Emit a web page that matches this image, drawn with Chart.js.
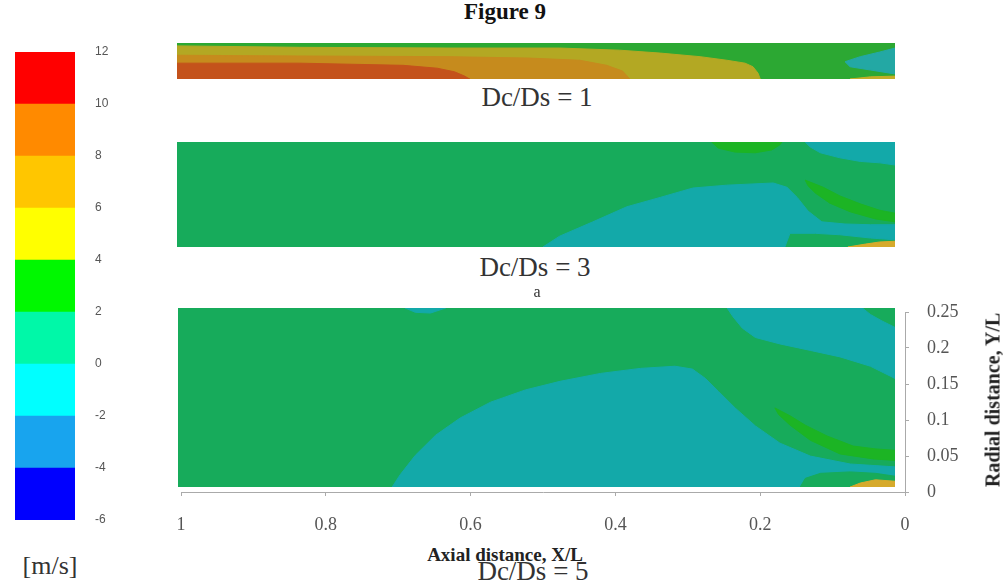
<!DOCTYPE html>
<html>
<head>
<meta charset="utf-8">
<script src="https://cdn.jsdelivr.net/npm/chart.js@4.4.1/dist/chart.umd.min.js"></script>
<style>
  body { margin: 0; background: #fff; width: 1003px; height: 582px; position: relative; overflow: hidden; }
  canvas { position: absolute; }
  .lbl { position: absolute; font-family: "Liberation Serif", "Times New Roman", serif; color: #333; white-space: nowrap; transform: translateX(-50%); }
</style>
</head>
<body>
<div class="lbl" style="left:505px;top:-1px;font-size:23px;font-weight:bold;color:#111">Figure 9</div>

<canvas id="key" width="130" height="490" style="left:0;top:40px"></canvas>
<canvas id="p1" width="718" height="36" style="left:177px;top:43px"></canvas>
<canvas id="p2" width="718" height="105" style="left:177px;top:142px"></canvas>
<canvas id="axes3" width="833" height="230" style="left:170px;top:300px"></canvas>
<canvas id="p3" width="717" height="179" style="left:178px;top:308px"></canvas>

<div class="lbl" style="left:537px;top:82px;font-size:27px">Dc/Ds = 1</div>
<div class="lbl" style="left:535px;top:252px;font-size:27px">Dc/Ds = 3</div>
<div class="lbl" style="left:537px;top:283px;font-size:16px">a</div>
<div class="lbl" style="left:505px;top:544px;font-size:19px;font-weight:bold;color:#222">Axial distance, X/L</div>
<div class="lbl" style="left:533px;top:556px;font-size:27px">Dc/Ds = 5</div>
<div class="lbl" style="left:50px;top:551px;font-size:26px">[m/s]</div>
<div class="lbl" style="left:993px;top:400px;font-size:20px;font-weight:bold;color:#222;transform:translate(-50%,-50%) rotate(-90deg)">Radial distance, Y/L</div>

<script>
// velocity key, m/s
const levels = [-6, -4, -2, 0, 2, 4, 6, 8, 10, 12];
const levelColors = ['#0000ff', '#18a4ee', '#00ffff', '#00f8a8', '#00f800', '#ffff00', '#ffc600', '#ff8a00', '#ff0000'];

// axis ticks (X/L runs from inlet 1 down to 0)
const axialTicks = [1, 0.8, 0.6, 0.4, 0.2, 0];
const radialTicks = [0, 0.05, 0.1, 0.15, 0.2, 0.25];

// extent of each computed field
const fieldAxial = [0.014, 1.005];
const fieldRadial1 = [0, 0.05];
const fieldRadial2 = [0, 0.146];
const fieldRadial3 = [0.007, 0.256];

// contour bands, [X/L, Y/L] outlines

// Dc/Ds = 1
const olive1 = [[1.005, 0.046], [0.836, 0.044], [0.628, 0.043], [0.477, 0.043], [0.394, 0.040], [0.338, 0.036],
  [0.283, 0.031], [0.246, 0.026], [0.221, 0.022], [0.210, 0.017], [0.203, 0.008], [0.200, 0], [1.005, 0]];
const orange1 = [[1.005, 0.033], [0.836, 0.032], [0.628, 0.031], [0.518, 0.029], [0.449, 0.026], [0.412, 0.019],
  [0.390, 0.011], [0.380, 0], [1.005, 0]];
const red1 = [[1.005, 0.022], [0.836, 0.022], [0.693, 0.019], [0.646, 0.015], [0.622, 0.010], [0.608, 0.004],
  [0.601, 0], [1.005, 0]];
const cyan1 = [[0.014, 0.043], [0.035, 0.0375], [0.062, 0.031], [0.083, 0.024], [0.076, 0.017], [0.048, 0.0125], [0.014, 0.007]];
const rim1 = [[0.076, 0], [0.048, 0.003], [0.014, 0.004], [0.014, 0]];

// Dc/Ds = 3
const cyanLow2 = [[0.500, 0], [0.477, 0.015], [0.431, 0.035], [0.384, 0.056], [0.338, 0.069], [0.293, 0.082],
  [0.246, 0.086], [0.182, 0.089], [0.163, 0.083], [0.149, 0.069], [0.134, 0.050], [0.115, 0.035], [0.083, 0.032],
  [0.048, 0.031], [0.014, 0.031], [0.014, 0.010], [0.048, 0.0125], [0.090, 0.017], [0.124, 0.019], [0.159, 0.019], [0.166, 0]];
const cyanTop2 = [[0.138, 0.146], [0.131, 0.139], [0.117, 0.131], [0.090, 0.124], [0.062, 0.119], [0.035, 0.117],
  [0.014, 0.114], [0.014, 0.146]];
const band2 = [[0.138, 0.093], [0.113, 0.083], [0.090, 0.071], [0.062, 0.060], [0.035, 0.051], [0.014, 0.047],
  [0.014, 0.035], [0.041, 0.039], [0.076, 0.049], [0.104, 0.061], [0.124, 0.075], [0.134, 0.085]];
const streak2 = [[0.267, 0.146], [0.258, 0.1375], [0.235, 0.132], [0.207, 0.131], [0.184, 0.135], [0.173, 0.142], [0.170, 0.146]];
const spot2 = [[0.079, 0], [0.055, 0.004], [0.035, 0.007], [0.014, 0.008], [0.014, 0]];

// Dc/Ds = 5
const cyanLow3 = [[0.709, 0.007], [0.698, 0.024], [0.677, 0.051], [0.649, 0.079], [0.615, 0.103], [0.573, 0.125],
  [0.525, 0.142], [0.477, 0.154], [0.421, 0.165], [0.366, 0.172], [0.318, 0.175], [0.294, 0.171], [0.276, 0.158],
  [0.258, 0.140], [0.235, 0.117], [0.207, 0.092], [0.173, 0.068], [0.131, 0.050], [0.076, 0.039], [0.014, 0.035], [0.014, 0.007]];
const cyanTop3 = [[0.246, 0.256], [0.238, 0.244], [0.225, 0.228], [0.207, 0.215], [0.173, 0.206], [0.131, 0.197],
  [0.090, 0.188], [0.048, 0.175], [0.014, 0.158], [0.014, 0.229], [0.032, 0.238], [0.048, 0.247], [0.059, 0.256]];
const nick3 = [[0.691, 0.256], [0.677, 0.250], [0.656, 0.249], [0.635, 0.256]];
const band3 = [[0.180, 0.117], [0.159, 0.106], [0.138, 0.093], [0.108, 0.078], [0.072, 0.064], [0.041, 0.060], [0.014, 0.058],
  [0.014, 0.044], [0.044, 0.046], [0.090, 0.053], [0.131, 0.072], [0.159, 0.093], [0.175, 0.108]];
const blob3 = [[0.145, 0.007], [0.138, 0.019], [0.117, 0.026], [0.076, 0.028], [0.041, 0.026], [0.014, 0.022], [0.014, 0.007]];
const spot3 = [[0.076, 0.007], [0.062, 0.0125], [0.041, 0.017], [0.014, 0.015], [0.014, 0.007]];

const GREEN = '#17ab5b', CYAN = '#13a9a9', BRIGHT = '#1cb424', SPOT = '#d6aa2c';

function fieldRect(radial) {
  const [x0, x1] = fieldAxial, [y0, y1] = radial;
  return [[x1, y0], [x0, y0], [x0, y1], [x1, y1]];
}

function layerSets(layers) {
  return layers.map(([pts, col], i) => ({
    data: pts.concat([pts[0]]).map(p => ({ x: p[0], y: p[1] })),
    showLine: true,
    fill: 'shape',
    backgroundColor: col,
    borderColor: col,
    borderWidth: 1,
    pointRadius: 0,
    tension: 0,
    order: -i
  }));
}

const quiet = { legend: { display: false }, tooltip: { enabled: false } };

// a contour panel fills its whole canvas: the scales span the field extent
function fieldPanel(id, radial, layers) {
  return new Chart(document.getElementById(id), {
    type: 'scatter',
    data: { datasets: layerSets([[fieldRect(radial), layers[0]]].concat(layers.slice(1))) },
    options: {
      responsive: false, animation: false, devicePixelRatio: 1,
      layout: { padding: 0 },
      plugins: quiet,
      scales: {
        x: { type: 'linear', reverse: true, min: fieldAxial[0], max: fieldAxial[1], display: false },
        y: { type: 'linear', min: radial[0], max: radial[1], display: false }
      }
    }
  });
}

fieldPanel('p1', fieldRadial1, [
  '#2ca833', [olive1, '#b3a823'], [orange1, '#c68b1d'], [red1, '#c4521b'], [cyan1, '#23a8a4'], [rim1, '#c2ae28']
]);

fieldPanel('p2', fieldRadial2, [
  GREEN, [cyanLow2, CYAN], [cyanTop2, CYAN], [band2, BRIGHT], [streak2, BRIGHT], [spot2, SPOT]
]);

fieldPanel('p3', fieldRadial3, [
  GREEN, [cyanLow3, CYAN], [cyanTop3, CYAN], [nick3, CYAN], [band3, BRIGHT], [blob3, GREEN], [spot3, SPOT]
]);

// axes of the Dc/Ds = 5 panel
const tickFont = { family: 'Liberation Serif', size: 18 };
const axisGrid = { drawOnChartArea: false, drawTicks: true, tickLength: 4, color: '#aaa' };

new Chart(document.getElementById('axes3'), {
  type: 'scatter',
  data: { datasets: [] },
  options: {
    responsive: false, animation: false, devicePixelRatio: 1,
    layout: { padding: { left: 11, top: 12, right: 0, bottom: 0 } },
    plugins: quiet,
    scales: {
      x: {
        type: 'linear', reverse: true, min: 0, max: 1,
        afterBuildTicks: s => { s.ticks = axialTicks.map(v => ({ value: v })); },
        afterFit: s => { s.height = 38; s.paddingLeft = 0; s.paddingRight = 0; },
        grid: axisGrid,
        border: { display: true, color: '#aaa' },
        ticks: { autoSkip: false, maxRotation: 0, padding: 18, color: '#555', font: tickFont, callback: v => String(v) }
      },
      y: {
        type: 'linear', position: 'right', min: 0, max: 0.25,
        afterBuildTicks: s => { s.ticks = radialTicks.map(v => ({ value: v })); },
        afterFit: s => { s.width = 98; s.paddingTop = 0; s.paddingBottom = 0; },
        grid: axisGrid,
        border: { display: true, color: '#aaa' },
        ticks: { autoSkip: false, padding: 18, color: '#555', font: tickFont, callback: v => String(v) }
      }
    }
  }
});

// colour key: one floating bar per level band
new Chart(document.getElementById('key'), {
  type: 'bar',
  data: {
    labels: ['m/s'],
    datasets: levelColors.map((c, i) => ({
      data: [[levels[i], levels[i + 1]]],
      backgroundColor: c,
      grouped: false,
      barPercentage: 1,
      categoryPercentage: 1,
      borderWidth: 0
    }))
  },
  options: {
    responsive: false, animation: false, devicePixelRatio: 1,
    layout: { padding: { left: 15, top: 12, right: 0, bottom: 10 } },
    plugins: quiet,
    scales: {
      x: { display: false },
      y: {
        position: 'right', min: -6, max: 12,
        afterBuildTicks: s => { s.ticks = levels.map(v => ({ value: v })); },
        afterFit: s => { s.width = 55; s.paddingTop = 0; s.paddingBottom = 0; },
        grid: { display: false, drawTicks: false },
        border: { display: false },
        ticks: { padding: 20, color: '#555', font: { family: 'Liberation Sans', size: 12 }, callback: v => String(v) }
      }
    }
  }
});
</script>
</body>
</html>
